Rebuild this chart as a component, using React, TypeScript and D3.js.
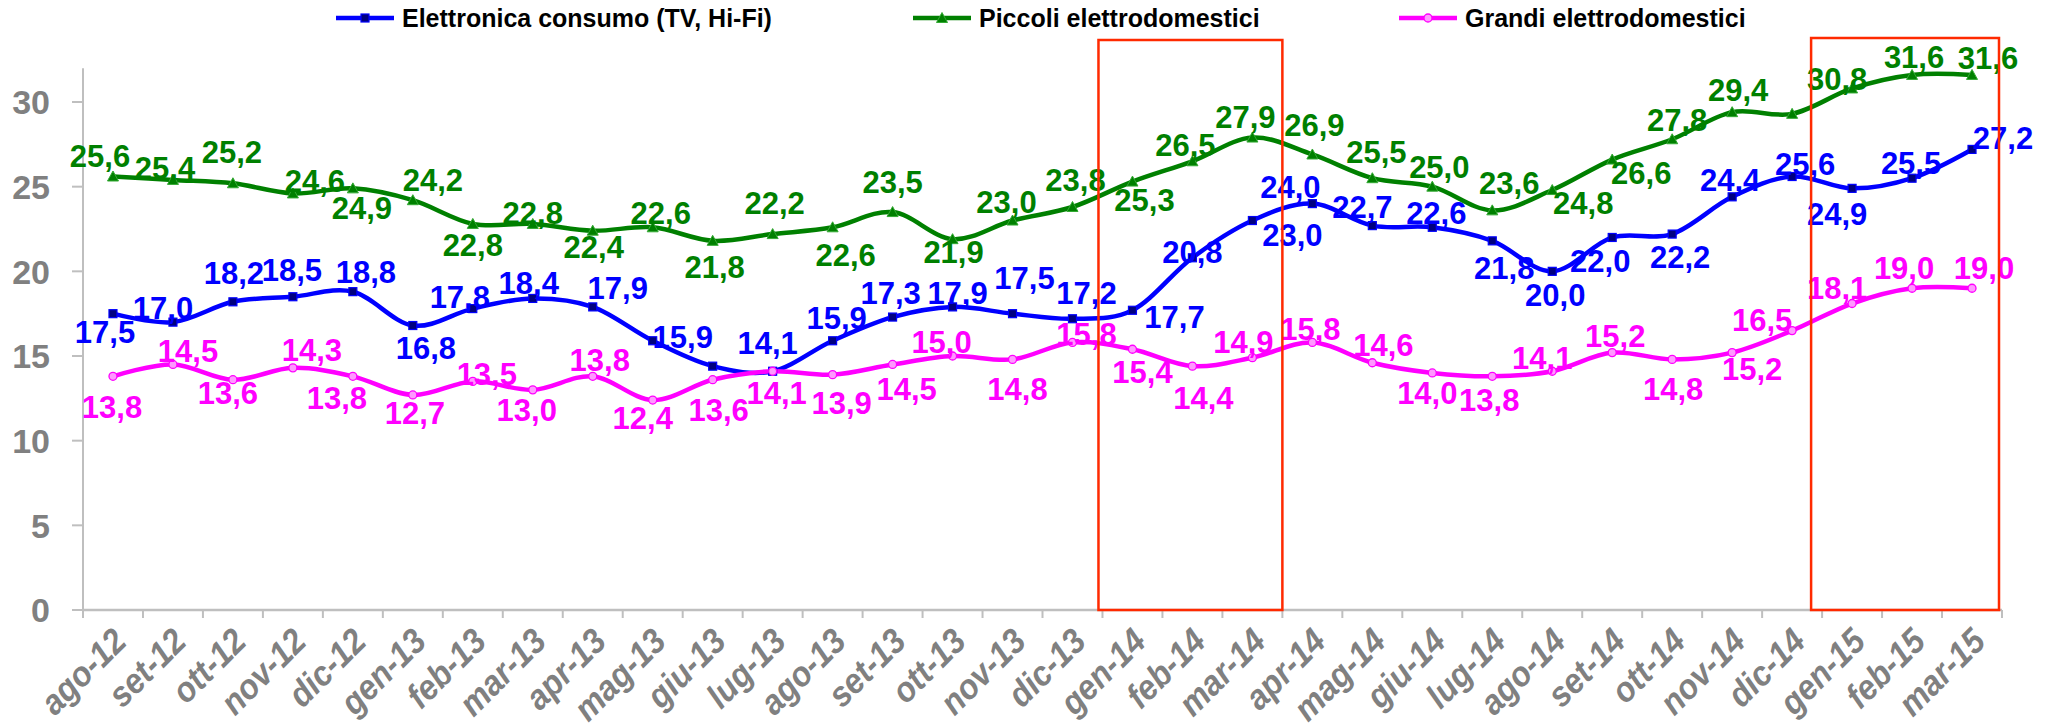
import React from "react";
import * as d3 from "d3";

const categories = ["ago-12","set-12","ott-12","nov-12","dic-12","gen-13","feb-13","mar-13","apr-13","mag-13","giu-13","lug-13","ago-13","set-13","ott-13","nov-13","dic-13","gen-14","feb-14","mar-14","apr-14","mag-14","giu-14","lug-14","ago-14","set-14","ott-14","nov-14","dic-14","gen-15","feb-15","mar-15"];

const elettronica = [17.5,17.0,18.2,18.5,18.8,16.8,17.8,18.4,17.9,15.9,14.4,14.1,15.9,17.3,17.9,17.5,17.2,17.7,20.8,23.0,24.0,22.7,22.6,21.8,20.0,22.0,22.2,24.4,25.6,24.9,25.5,27.2];
const piccoli = [25.6,25.4,25.2,24.6,24.9,24.2,22.8,22.8,22.4,22.6,21.8,22.2,22.6,23.5,21.9,23.0,23.8,25.3,26.5,27.9,26.9,25.5,25.0,23.6,24.8,26.6,27.8,29.4,29.3,30.8,31.6,31.6];
const grandi = [13.8,14.5,13.6,14.3,13.8,12.7,13.5,13.0,13.8,12.4,13.6,14.1,13.9,14.5,15.0,14.8,15.8,15.4,14.4,14.9,15.8,14.6,14.0,13.8,14.1,15.2,14.8,15.2,16.5,18.1,19.0,19.0];

// which points carry a data label (the reference hides two)
const elettronicaLabelled = categories.map((c) => c !== "giu-13");
const piccoliLabelled = categories.map((c) => c !== "dic-14");
const grandiLabelled = categories.map(() => true);

const yTicks = [0, 5, 10, 15, 20, 25, 30];
const seriesNames = ["Elettronica consumo (TV, Hi-Fi)", "Piccoli elettrodomestici", "Grandi elettrodomestici"];
const highlights = [["gen-14", "mar-14"], ["gen-15", "mar-15"]];

// label offsets relative to each point (layout only)
const elettronicaLabelOff = [[-8,18],[-10,-14],[1,-29],[-1,-27],[13,-20],[13,22],[-13,-12],[-4,-16],[25,-19],[30,-4],[0,0],[-5,-28],[4,-23],[-2,-24],[5,-14],[12,-36],[14,-26],[42,7],[0,-6],[40,14],[-22,-17],[-10,-19],[4,-14],[12,27],[3,24],[-12,23],[8,23],[-2,-17],[13,-13],[-15,25],[-1,-15],[31,-12]];
const piccoliLabelOff = [[-13,-21],[-8,-12],[-1,-31],[22,-13],[9,19],[20,-20],[0,21],[0,-11],[1,16],[8,-14],[2,26],[2,-31],[13,28],[0,-30],[1,13],[-6,-19],[3,-27],[12,18],[-7,-16],[-7,-21],[2,-30],[4,-26],[7,-20],[17,-28],[31,13],[29,13],[5,-19],[6,-22],[0,0],[-15,-10],[2,-18],[16,-17]];
const grandiLabelOff = [[-1,31],[15,-14],[-5,13],[19,-18],[-16,22],[2,18],[14,-8],[-6,20],[7,-16],[-10,18],[6,30],[4,22],[9,28],[14,24],[-11,-14],[5,29],[14,-9],[10,23],[11,32],[-9,-16],[-2,-14],[11,-18],[-5,20],[-3,24],[-10,-13],[3,-17],[1,29],[20,16],[-30,-11],[-15,-16],[-8,-20],[12,-20]];

const W = 2056, H = 724;
const X0 = 83, X1 = 2002, Y0 = 610, YTOP = 102;
const FONT = "'Liberation Sans', Arial, sans-serif";

export default function App() {
  const x = d3.scaleBand<string>().domain(categories).range([X0, X1]).paddingInner(0).paddingOuter(0);
  const bw = x.bandwidth();
  const cx = (c: string) => (x(c) as number) + bw / 2;
  const y = d3.scaleLinear().domain([0, 30]).range([Y0, YTOP]);
  const axisTop = y(32);

  const line = d3.line<number>()
    .x((_, i) => cx(categories[i]))
    .y((d) => y(d))
    .curve(d3.curveCardinal.tension(0));

  const series = [
    { name: seriesNames[0], values: elettronica, color: "#0000FF", labelled: elettronicaLabelled, off: elettronicaLabelOff, marker: "square" },
    { name: seriesNames[1], values: piccoli, color: "#008000", labelled: piccoliLabelled, off: piccoliLabelOff, marker: "triangle" },
    { name: seriesNames[2], values: grandi, color: "#FF00FF", labelled: grandiLabelled, off: grandiLabelOff, marker: "circle" },
  ];

  const marker = (kind: string, px: number, py: number, color: string, key: string) => {
    if (kind === "square") return <rect key={key} x={px - 4} y={py - 4} width={8} height={8} fill="#000080" stroke="#0000FF" strokeWidth={1.2} />;
    if (kind === "triangle") return <path key={key} d={`M${px},${py - 5.5}L${px + 5.5},${py + 4.5}L${px - 5.5},${py + 4.5}Z`} fill="#008000" stroke="#33AA33" strokeWidth={1} />;
    return <circle key={key} cx={px} cy={py} r={4} fill="#FF99FF" stroke="#FF00FF" strokeWidth={1.3} />;
  };

  const fmt = (v: number) => v.toFixed(1).replace(".", ",");

  const legendX = [336, 913, 1399];

  return (
    <svg width={W} height={H} style={{ position: "absolute", left: 0, top: 0, background: "#fff" }} fontFamily={FONT}>
      {/* Y axis */}
      <line x1={X0} x2={X0} y1={axisTop} y2={Y0} stroke="#BFBFBF" strokeWidth={2} />
      {yTicks.map((t) => (
        <g key={t}>
          <line x1={X0 - 11} x2={X0} y1={y(t)} y2={y(t)} stroke="#BFBFBF" strokeWidth={2} />
          <text x={50} y={y(t)} dy="0.36em" textAnchor="end" fontSize={34} fontWeight="bold" fill="#808080">{t}</text>
        </g>
      ))}
      {/* X axis */}
      <line x1={X0} x2={X1} y1={Y0} y2={Y0} stroke="#BFBFBF" strokeWidth={2.5} />
      {categories.map((c) => (
        <line key={"t" + c} x1={x(c) as number} x2={x(c) as number} y1={Y0} y2={Y0 + 8} stroke="#BFBFBF" strokeWidth={2} />
      ))}
      <line x1={X1} x2={X1} y1={Y0} y2={Y0 + 8} stroke="#BFBFBF" strokeWidth={2} />
      {categories.map((c) => (
        <text key={"l" + c} transform={`translate(${cx(c) - 2},${Y0 + 16}) rotate(-45) scale(0.92,1)`} textAnchor="end" dy="0.7em" fontSize={35} fontWeight="bold" fontStyle="italic" fill="#808080">{c}</text>
      ))}

      {/* Lines */}
      {series.map((s) => (
        <path key={s.name} d={line(s.values) || ""} fill="none" stroke={s.color} strokeWidth={4.5} strokeLinejoin="round" strokeLinecap="round" />
      ))}
      {series.map((s) => (
        <g key={s.name + "m"}>
          {s.values.map((v, i) => marker(s.marker, cx(categories[i]), y(v), s.color, s.name + i))}
        </g>
      ))}
      {/* Data labels */}
      {series.map((s) => (
        <g key={s.name + "l"}>
          {s.values.map((v, i) => s.labelled[i] ? (
            <text key={i} x={cx(categories[i]) + s.off[i][0]} y={y(v) + s.off[i][1]} dy="0.36em" textAnchor="middle" fontSize={31} fontWeight="bold" fill={s.color}>{fmt(v)}</text>
          ) : null)}
        </g>
      ))}

      {/* Legend */}
      {series.map((s, k) => (
        <g key={s.name + "lg"}>
          <line x1={legendX[k]} x2={legendX[k] + 58} y1={18} y2={18} stroke={s.color} strokeWidth={4.5} />
          {marker(s.marker, legendX[k] + 29, 18, s.color, "lgm" + k)}
          <text x={legendX[k] + 66} y={18} dy="0.36em" fontSize={25} fontWeight="bold" fill="#000">{s.name}</text>
        </g>
      ))}

      {/* Highlight boxes */}
      {highlights.map(([a, b], k) => {
        const left = (x(a) as number) - (k === 0 ? 4 : 11);
        const right = (x(b) as number) + bw - (k === 0 ? 0 : 3);
        const top = k === 0 ? 40 : 38;
        return <rect key={"h" + k} x={left} y={top} width={right - left} height={Y0 - top} fill="none" stroke="#FF2A00" strokeWidth={2.5} />;
      })}
    </svg>
  );
}
